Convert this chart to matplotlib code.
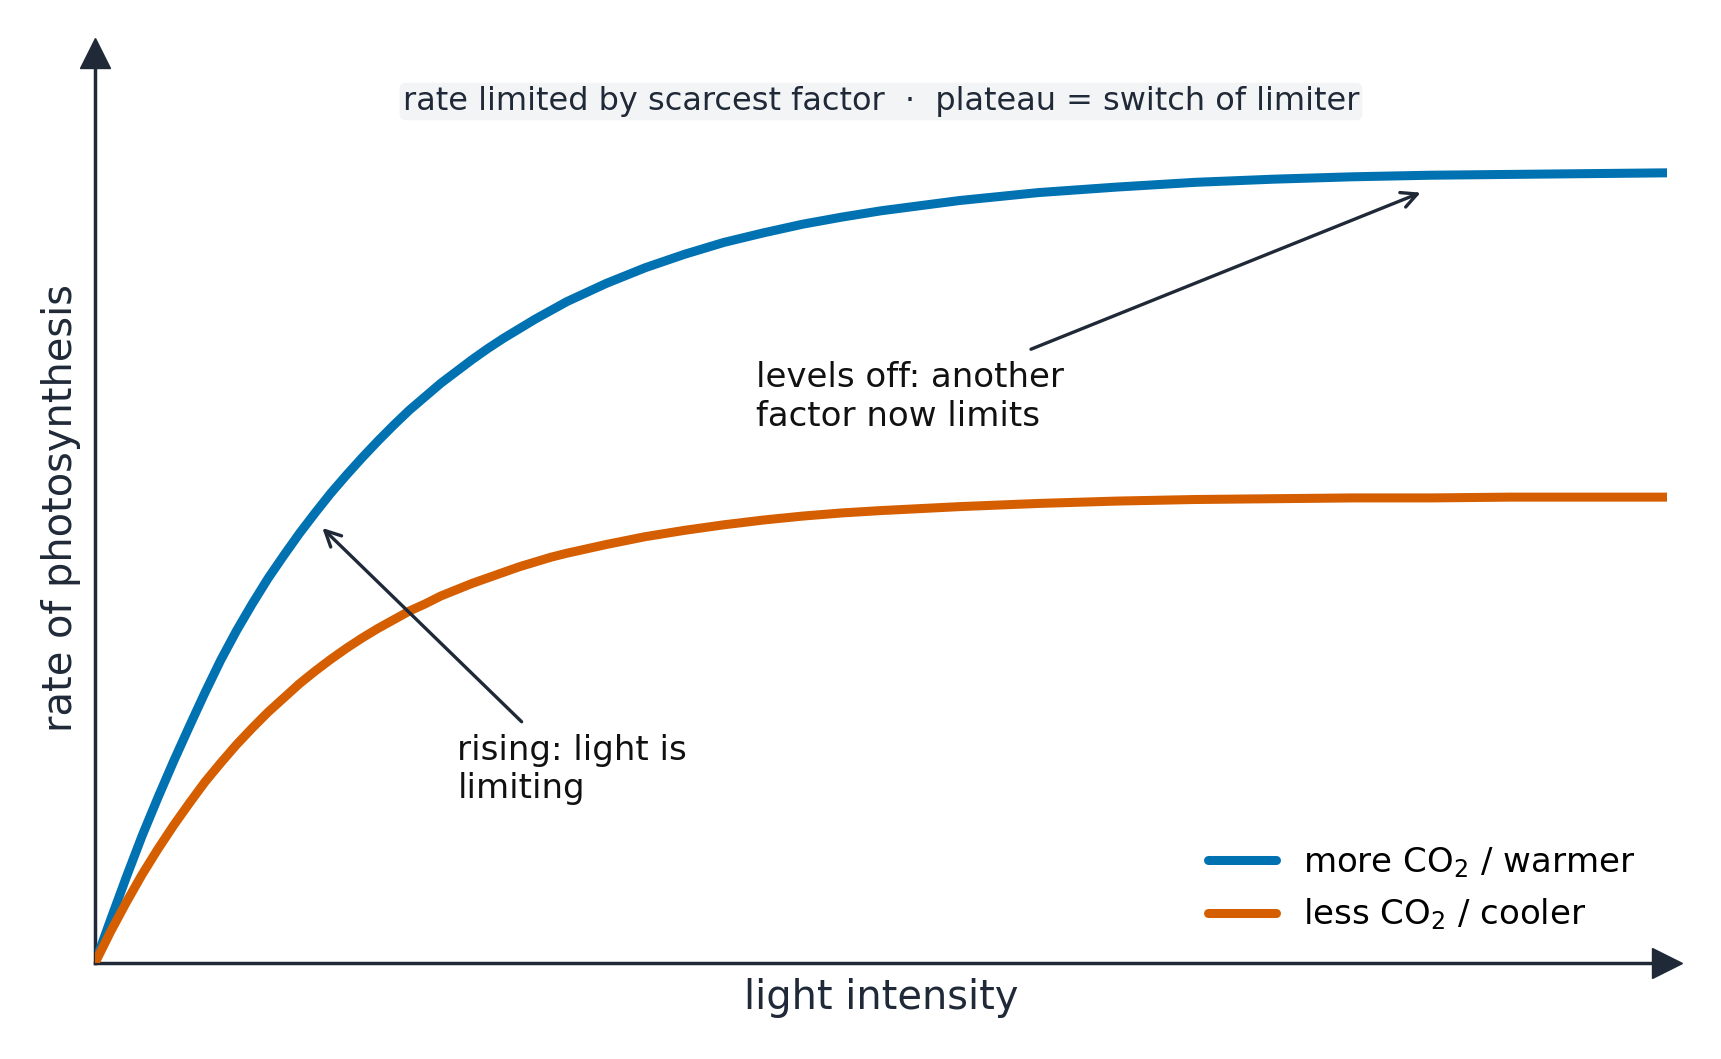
import matplotlib
matplotlib.use("Agg")
import matplotlib.pyplot as plt

# ---- data (light intensity 0..10, rate 0..1.15) ----
light_more = [0, 0.1, 0.2, 0.3, 0.4, 0.5, 0.6, 0.7, 0.8, 0.9, 1.0, 1.1, 1.2, 1.3, 1.4, 1.5,
              1.6, 1.7, 1.8, 1.9, 2.0, 2.1, 2.2, 2.3, 2.4, 2.5, 2.6, 2.7, 2.8, 2.9, 3.0,
              3.25, 3.5, 3.75, 4.0, 4.25, 4.5, 4.75, 5.0, 5.5, 6.0, 6.5, 7.0, 7.5, 8.0,
              8.5, 9.0, 9.5, 10.0]
rate_more = [0, 0.055, 0.109, 0.161, 0.209, 0.255, 0.299, 0.342, 0.383, 0.420, 0.454, 0.486,
             0.515, 0.543, 0.569, 0.594, 0.617, 0.639, 0.660, 0.680, 0.699, 0.716, 0.733,
             0.748, 0.763, 0.777, 0.790, 0.802, 0.814, 0.825, 0.836, 0.859, 0.879, 0.896,
             0.911, 0.923, 0.934, 0.943, 0.951, 0.964, 0.974, 0.981, 0.987, 0.991, 0.994,
             0.996, 0.997, 0.998, 0.999]

light_less = [0, 0.1, 0.2, 0.3, 0.4, 0.5, 0.6, 0.7, 0.8, 0.9, 1.0, 1.1, 1.2, 1.3, 1.4, 1.5,
              1.6, 1.7, 1.8, 1.9, 2.0, 2.1, 2.2, 2.3, 2.4, 2.5, 2.6, 2.7, 2.8, 2.9, 3.0,
              3.25, 3.5, 3.75, 4.0, 4.25, 4.5, 4.75, 5.0, 5.5, 6.0, 6.5, 7.0, 7.5, 8.0,
              8.5, 9.0, 9.5, 10.0]
rate_less = [0, 0.040, 0.077, 0.112, 0.144, 0.174, 0.202, 0.229, 0.253, 0.276, 0.297, 0.317,
             0.335, 0.353, 0.369, 0.384, 0.398, 0.411, 0.423, 0.434, 0.445, 0.454, 0.464,
             0.472, 0.480, 0.487, 0.494, 0.501, 0.507, 0.513, 0.518, 0.529, 0.539, 0.547,
             0.554, 0.560, 0.565, 0.569, 0.572, 0.577, 0.581, 0.584, 0.586, 0.587, 0.588,
             0.588, 0.589, 0.589, 0.589]

series_labels = ["more CO$_2$ / warmer", "less CO$_2$ / cooler"]
series_colors = ["#0072B2", "#D55E00"]

title_text = "rate limited by scarcest factor  \u00b7  plateau = switch of limiter"
x_label = "light intensity"
y_label = "rate of photosynthesis"

note_rising = "rising: light is\nlimiting"
note_rising_xy = (1.446, 0.550)
note_rising_tail = (2.714, 0.305)
note_rising_text = (2.305, 0.2895)

note_level = "levels off: another\nfactor now limits"
note_level_xy = (8.433, 0.974)
note_level_tail = (5.954, 0.776)
note_level_text = (4.205, 0.7606)

# ---- figure ----
W, H = 1721, 1059
fig = plt.figure(figsize=(W / 100, H / 100), dpi=100)
plt.rcParams['font.family'] = ['DejaVu Sans']
axis_col = "#1f2937"

ax = fig.add_axes([95 / W, 1 - 963 / H, 1572 / W, 909.6 / H])
ax.set_xlim(0, 10)
ax.set_ylim(0, 1.15)

lw = 6.5
ax.plot(light_more, rate_more, color=series_colors[0], lw=lw, solid_capstyle='round',
        solid_joinstyle='round', label=series_labels[0], zorder=3)
ax.plot(light_less, rate_less, color=series_colors[1], lw=lw, solid_capstyle='round',
        solid_joinstyle='round', label=series_labels[1], zorder=3)

for s in ["top", "right"]:
    ax.spines[s].set_visible(False)
for s in ["left", "bottom"]:
    ax.spines[s].set_color(axis_col)
    ax.spines[s].set_linewidth(2.5)
ax.set_xticks([])
ax.set_yticks([])

# axis arrow heads
ax.plot(1, 0, ">", color=axis_col, ms=22, transform=ax.get_yaxis_transform(), clip_on=False)
ax.plot(0, 1, "^", color=axis_col, ms=22, transform=ax.get_xaxis_transform(), clip_on=False)

# annotations
arrow_kw = dict(arrowstyle='->', color=axis_col, lw=2.4, shrinkA=0, shrinkB=0, mutation_scale=28)
ax.annotate('', xy=note_rising_xy, xytext=note_rising_tail, arrowprops=arrow_kw, zorder=5)
ax.annotate('', xy=note_level_xy, xytext=note_level_tail, arrowprops=arrow_kw, zorder=5)
ax.text(*note_rising_text, note_rising, fontsize=24.5, ha='left', va='top', color='#111111',
        linespacing=1.2)
ax.text(*note_level_text, note_level, fontsize=24.5, ha='left', va='top', color='#111111',
        linespacing=1.2)

# legend
ax.legend(loc='upper left', bbox_to_anchor=(1194.5 / W, 1 - 831.2 / H),
          bbox_transform=fig.transFigure, borderaxespad=0, frameon=False, fontsize=24.5,
          handlelength=2.0, handletextpad=0.8, labelspacing=0.5)

# title box and axis labels
fig.text(881 / W, 1 - 110 / H, title_text, fontsize=23, ha='center', va='baseline',
         color=axis_col,
         bbox=dict(boxstyle='round,pad=0.1,rounding_size=0.2', fc='#f3f4f6', ec='none'))
fig.text(881 / W, 1 - 1009.3 / H, x_label, fontsize=28.7, ha='center', va='baseline',
         color=axis_col)
fig.text(61.5 / W, 1 - 508 / H, y_label, fontsize=28.7, ha='center', va='center',
         rotation=90, color=axis_col)

fig.savefig("out.png", dpi=100)
